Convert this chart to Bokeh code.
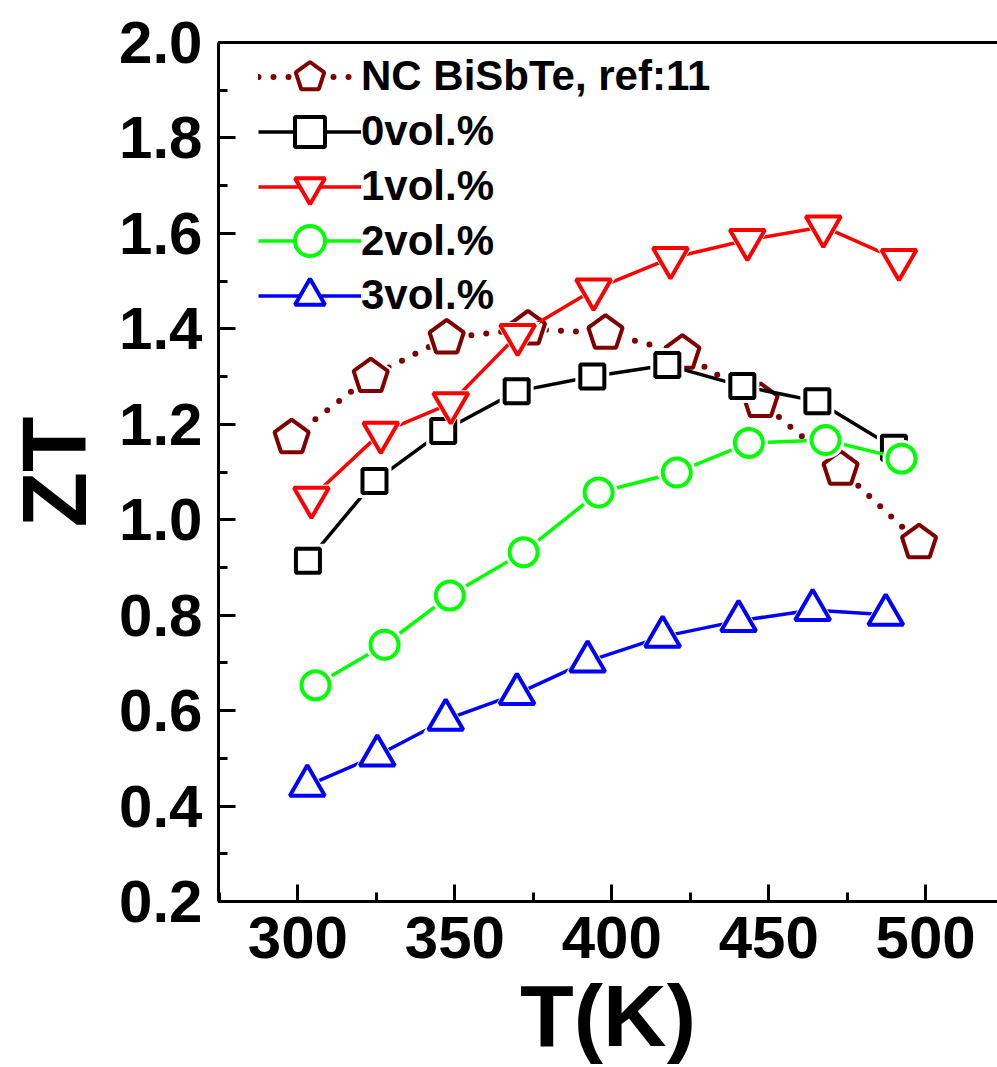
from bokeh.plotting import figure
from bokeh.models import (Range1d, LinearAxis, Legend, LegendItem, SingleIntervalTicker,
                          FixedTicker, PrintfTickFormatter, ColumnDataSource)
from bokeh.embed import file_html
from bokeh.resources import INLINE

# ZT versus temperature for the reference nanocomposite and the 0-3 vol.% samples
temp_nc = [298.0, 323.2, 347.4, 373.3, 398.0, 422.5, 447.4, 472.9, 497.9]
zt_nc = [1.172, 1.300, 1.381, 1.400, 1.391, 1.349, 1.248, 1.106, 0.952]

temp_0 = [303.2, 324.4, 346.3, 369.7, 393.8, 417.7, 441.6, 465.5, 489.9]
zt_0 = [0.914, 1.081, 1.186, 1.269, 1.300, 1.324, 1.280, 1.248, 1.151]

temp_1 = [304.3, 326.4, 348.7, 370.0, 394.2, 418.7, 443.2, 467.4, 491.5]
zt_1 = [1.046, 1.182, 1.244, 1.387, 1.482, 1.548, 1.586, 1.614, 1.544]

temp_2 = [305.6, 327.6, 348.4, 371.9, 395.8, 420.7, 443.7, 468.1, 492.3]
zt_2 = [0.653, 0.738, 0.841, 0.932, 1.057, 1.099, 1.161, 1.167, 1.128]

temp_3 = [303.0, 325.3, 347.1, 369.8, 392.3, 416.2, 440.4, 464.0, 487.3]
zt_3 = [0.443, 0.506, 0.581, 0.635, 0.703, 0.755, 0.788, 0.811, 0.801]

labels = ["NC BiSbTe, ref:11", "0vol.%", "1vol.%", "2vol.%", "3vol.%"]

FONT = "Liberation Sans"
FRAME_LEFT, FRAME_TOP, FRAME_BOTTOM = 218, 42, 903

p = figure(width=997, height=1067,
           x_range=Range1d(274.7, 522.9), y_range=Range1d(0.2, 2.0),
           x_axis_type=None, y_axis_type=None,
           output_backend="svg", toolbar_location=None,
           min_border_left=FRAME_LEFT, min_border_right=0,
           min_border_top=FRAME_TOP, min_border_bottom=1067 - FRAME_BOTTOM)
p.outline_line_color = None
p.background_fill_color = "white"
p.border_fill_color = "white"


def style_axis(ax):
    ax.axis_line_width = 3
    ax.axis_line_color = "black"
    ax.major_tick_line_width = 3
    ax.minor_tick_line_width = 3
    ax.major_tick_out = 0
    ax.minor_tick_out = 0
    ax.major_tick_in = 17
    ax.minor_tick_in = 9
    ax.major_label_text_font = FONT
    ax.major_label_text_font_style = "bold"
    ax.major_label_text_font_size = "60px"
    ax.major_label_text_color = "black"
    ax.axis_label_text_font = FONT
    ax.axis_label_text_font_style = "bold"
    ax.axis_label_text_color = "black"


xaxis = LinearAxis(ticker=SingleIntervalTicker(interval=50, num_minor_ticks=2),
                   axis_label="T(K)")
style_axis(xaxis)
xaxis.major_label_standoff = 15
xaxis.axis_label_text_font_size = "88px"
xaxis.axis_label_standoff = 5
p.add_layout(xaxis, "below")

yaxis = LinearAxis(ticker=SingleIntervalTicker(interval=0.2, num_minor_ticks=2),
                   formatter=PrintfTickFormatter(format="%.1f"),
                   axis_label="ZT")
style_axis(yaxis)
yaxis.major_label_standoff = 16
yaxis.axis_label_text_font_size = "91px"
yaxis.axis_label_standoff = 11
p.add_layout(yaxis, "left")

top_axis = LinearAxis(ticker=FixedTicker(ticks=[]))
top_axis.axis_line_width = 3
top_axis.major_tick_in = 0
top_axis.major_tick_out = 0
top_axis.minor_tick_in = 0
top_axis.minor_tick_out = 0
top_axis.major_label_text_font_size = "0px"
p.add_layout(top_axis, "above")

MAROON = "#800000"
HALO = 10

# NC BiSbTe: dotted line with pentagons
src_nc = ColumnDataSource(dict(x=temp_nc, y=zt_nc))
l_nc = p.line("x", "y", source=src_nc, line_color=MAROON, line_width=6,
              line_dash="0 15", line_cap="round")
p.ngon("x", "y", source=src_nc, radius=18 + HALO / 2, radius_units="screen", n=5,
       angle=0, fill_color="white", line_color=None)
m_nc = p.ngon("x", "y", source=src_nc, radius=18, radius_units="screen", n=5,
              angle=0, fill_color="white", line_color=MAROON, line_width=4)

series = [
    (temp_0, zt_0, "black", "square", 24),
    (temp_1, zt_1, "#ff0000", "inverted_triangle", 35),
    (temp_2, zt_2, "#00ff00", "circle", 28),
    (temp_3, zt_3, "#0000ff", "triangle", 35),
]

items = [LegendItem(label=labels[0], renderers=[l_nc, m_nc])]
for (tx, zy, col, mk, sz), lab in zip(series, labels[1:]):
    src = ColumnDataSource(dict(x=tx, y=zy))
    ln = p.line("x", "y", source=src, line_color=col, line_width=3.5)
    p.scatter("x", "y", source=src, marker=mk, size=sz + HALO,
              fill_color="white", line_color=None)
    mr = p.scatter("x", "y", source=src, marker=mk, size=sz,
                   fill_color="white", line_color=col, line_width=4)
    items.append(LegendItem(label=lab, renderers=[ln, mr]))

# one single-row legend per series so rows can sit closer than the glyph box height
ROW_CENTERS = [78, 133, 188, 242.5, 297]
GLYPH_H = 75
for item, cy in zip(items, ROW_CENTERS):
    vy = FRAME_BOTTOM - (cy + GLYPH_H / 2)
    lg = Legend(items=[item], location=(40, vy))
    lg.border_line_color = None
    lg.background_fill_alpha = 0
    lg.padding = 0
    lg.margin = 0
    lg.spacing = 0
    lg.glyph_width = 103
    lg.glyph_height = GLYPH_H
    lg.label_height = GLYPH_H
    lg.label_standoff = 0
    lg.label_text_font = FONT
    lg.label_text_font_style = "bold"
    lg.label_text_font_size = "42px"
    lg.label_text_color = "black"
    p.add_layout(lg)

open("out.html", "w").write(file_html(p, INLINE))
